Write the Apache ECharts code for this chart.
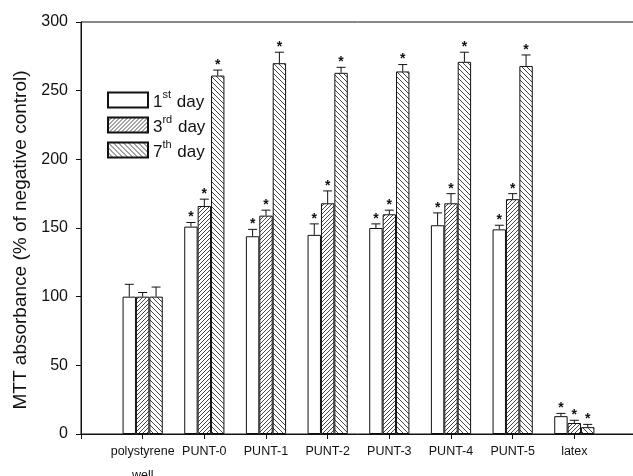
<!DOCTYPE html>
<html>
<head>
<meta charset="utf-8">
<script src="https://cdn.jsdelivr.net/npm/echarts@6/dist/echarts.min.js"></script>
<style>
  html, body { margin: 0; padding: 0; background: #fff; }
  #chart { width: 633px; height: 476px; }
</style>
</head>
<body>
<div id="chart"></div>
<script>
// groups on the x axis
const categories = ['polystyrene\nwell', 'PUNT-0', 'PUNT-1', 'PUNT-2', 'PUNT-3', 'PUNT-4', 'PUNT-5', 'latex']
const seriesNames = ['1st day', '3rd day', '7th day']

// mean values (% of negative control)
const day1 = [100, 151, 144, 145, 150, 152, 149, 13]
const day3 = [100, 166, 159, 168, 160, 168, 171, 8]
const day7 = [100, 261, 270, 263, 264, 271, 268, 5]

// upper error (SD)
const day1Err = [9, 3, 5, 8, 3, 9, 3, 2]
const day3Err = [3, 5, 4, 9, 3, 7, 4, 2]
const day7Err = [7, 4, 8, 4, 5, 7, 8, 2]

// significant vs control (asterisk)
const significant = [false, true, true, true, true, true, true, true]

const yTicks = [0, 50, 100, 150, 200, 250, 300]

const FONT = 'Liberation Sans, Arial, sans-serif'
const INK = '#111'
const BAR_W = 13.4

// hatch tiles
function hatch(size, dir) {
  const c = document.createElement('canvas')
  c.width = size
  c.height = size
  const ctx = c.getContext('2d')
  ctx.fillStyle = '#fff'
  ctx.fillRect(0, 0, size, size)
  ctx.strokeStyle = '#333'
  ctx.lineWidth = 0.9
  const segs = dir === 'up'
    ? [[-1, size + 1, size + 1, -1], [-1, 1, 1, -1], [size - 1, size + 1, size + 1, size - 1]]
    : [[-1, -1, size + 1, size + 1], [-1, size - 1, 1, size + 1], [size - 1, -1, size + 1, 1]]
  segs.forEach(s => {
    ctx.beginPath()
    ctx.moveTo(s[0], s[1])
    ctx.lineTo(s[2], s[3])
    ctx.stroke()
  })
  return { image: c, repeat: 'repeat' }
}

const fills = ['#fff', hatch(4, 'up'), hatch(5, 'down')]
const means = [day1, day3, day7]
const errs = [day1Err, day3Err, day7Err]

// pad one empty slot on each side so the groups sit at 1..8 like the original
const pad = arr => ['-'].concat(arr, ['-'])

const barSeries = seriesNames.map((name, i) => ({
  name: name,
  type: 'bar',
  barWidth: BAR_W,
  barGap: 0,
  data: pad(means[i]),
  itemStyle: { color: fills[i], borderColor: INK, borderWidth: 1 },
  emphasis: { disabled: true },
  z: 2,
}))

const errSeries = seriesNames.map((name, i) => ({
  type: 'custom',
  z: 3,
  silent: true,
  data: means[i].map((m, k) => [k + 1, m, m + errs[i][k], significant[k] ? 1 : 0]),
  renderItem(params, api) {
    const off = (i - 1) * BAR_W
    const base = api.coord([api.value(0), api.value(1)])
    const top = api.coord([api.value(0), api.value(2)])
    const x = base[0] + off
    const children = [
      { type: 'line', shape: { x1: x, y1: base[1], x2: x, y2: top[1] }, style: { stroke: INK, lineWidth: 1 } },
      { type: 'line', shape: { x1: x - 4.5, y1: top[1], x2: x + 4.5, y2: top[1] }, style: { stroke: INK, lineWidth: 1 } },
    ]
    if (api.value(3)) {
      children.push({
        type: 'text',
        style: {
          text: '*', x: x, y: top[1] - 5,
          align: 'center', verticalAlign: 'middle',
          font: 'bold 14px ' + FONT, fill: INK,
        },
      })
    }
    return { type: 'group', children: children }
  },
}))

const chart = echarts.init(document.getElementById('chart'))
chart.setOption({
  animation: false,
  textStyle: { fontFamily: FONT, color: INK },
  grid: {
    show: true,
    borderColor: INK,
    borderWidth: 1,
    left: 81,
    right: -3,
    top: 22,
    bottom: 42,
    outerBoundsMode: 'none',
  },
  legend: {
    data: seriesNames,
    orient: 'vertical',
    left: 102,
    top: 84,
    itemWidth: 40,
    itemHeight: 15,
    itemGap: 3,
    selectedMode: false,
    icon: 'rect',
    formatter: name => name.replace(/^(\d)(\w\w)(.*)$/, '{n|$1}{s|$2}{n|$3}'),
    textStyle: {
      fontFamily: FONT,
      fontSize: 17,
      color: INK,
      rich: {
        n: { fontSize: 17, fontFamily: FONT, color: INK, lineHeight: 22, verticalAlign: 'bottom' },
        s: { fontSize: 11, fontFamily: FONT, color: INK, lineHeight: 11, verticalAlign: 'top', padding: [0, 1, 0, 0] },
      },
    },
  },
  xAxis: {
    type: 'category',
    boundaryGap: false,
    data: pad(categories).map(c => (c === '-' ? '' : c)),
    axisLine: { lineStyle: { color: INK, width: 1 } },
    axisTick: { show: true, length: 5, lineStyle: { color: INK } },
    axisLabel: {
      interval: 0,
      margin: 6,
      fontSize: 12.5,
      lineHeight: 24,
      color: INK,
      fontFamily: FONT,
    },
    splitLine: { show: false },
  },
  yAxis: {
    type: 'value',
    min: yTicks[0],
    max: yTicks[yTicks.length - 1],
    interval: 50,
    name: 'MTT absorbance (% of negative control)',
    nameLocation: 'middle',
    nameGap: 47,
    nameTextStyle: { fontSize: 19, fontFamily: FONT, color: INK, padding: [0, 24, 0, 0] },
    axisLine: { show: true, lineStyle: { color: INK, width: 1 } },
    axisTick: { show: true, length: 5, lineStyle: { color: INK } },
    axisLabel: { margin: 13, fontSize: 16, color: INK, fontFamily: FONT },
    splitLine: { show: false },
  },
  series: barSeries.concat(errSeries),
})
</script>
</body>
</html>
